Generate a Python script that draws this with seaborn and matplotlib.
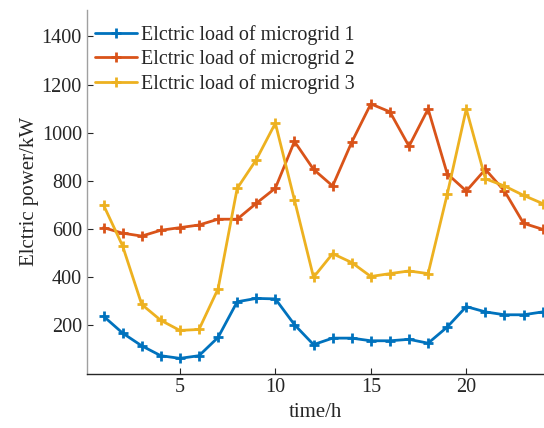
import pandas as pd
import matplotlib
matplotlib.use('Agg')
import matplotlib.pyplot as plt
import seaborn as sns

hours = list(range(1, 25))
load_mg1 = [238, 168, 115, 74, 63, 74, 150, 298, 312, 310, 203, 120,
            147, 147, 136, 136, 142, 126, 193, 278, 256, 244, 244, 256]
load_mg2 = [606, 583, 571, 595, 606, 617, 641, 641, 707, 770, 964, 848,
            779, 961, 1120, 1087, 944, 1099, 830, 758, 848, 758, 624, 599]
load_mg3 = [700, 530, 287, 221, 179, 183, 352, 769, 888, 1040, 721, 400,
            498, 461, 403, 415, 426, 415, 744, 1099, 809, 779, 740, 706]
labels = ['Elctric load of microgrid 1', 'Elctric load of microgrid 2',
          'Elctric load of microgrid 3']
colors = ['#0072BD', '#D95319', '#EDB120']


def plot_loads():
    sns.set_style('white')
    plt.rcParams['font.family'] = ['Liberation Serif', 'DejaVu Serif']

    fig = plt.figure(figsize=(5.44, 4.28), dpi=100)
    ax = fig.add_axes([0.1594, 0.1273, 0.8406, 0.8493])

    for vals, lab, col in zip([load_mg1, load_mg2, load_mg3], labels, colors):
        df = pd.DataFrame({'hour': hours, 'load': vals})
        sns.lineplot(data=df, x='hour', y='load', ax=ax, color=col, label=lab,
                     linewidth=2.0, marker='+', markersize=7, markeredgewidth=2.0,
                     markeredgecolor=col)

    ax.set_xlim(0.12, 24.07)
    ax.set_ylim(0, 1510)
    ax.set_xticks([5, 10, 15, 20])
    ax.set_yticks([200, 400, 600, 800, 1000, 1200, 1400])
    ax.set_xlabel('time/h', fontsize=15, color='#262626')
    ax.set_ylabel('Elctric power/kW', fontsize=15, color='#262626', labelpad=2)
    ax.tick_params(direction='in', length=4, width=0.8, labelsize=14.5,
                   colors='#262626', left=True, bottom=True)

    for side in ['top', 'right']:
        ax.spines[side].set_visible(False)
    ax.spines['left'].set_color('#a0a0a0')
    ax.spines['bottom'].set_color('#262626')
    ax.spines['left'].set_linewidth(1.0)
    ax.spines['bottom'].set_linewidth(1.0)

    ax.legend(loc='upper left', bbox_to_anchor=(0.0, 0.98), frameon=False,
              fontsize=14.4, handlelength=2.1, handletextpad=0.2,
              labelspacing=0.22, borderaxespad=0.2, borderpad=0.2)

    fig.savefig('out.png', dpi=100)


if __name__ == '__main__':
    plot_loads()
